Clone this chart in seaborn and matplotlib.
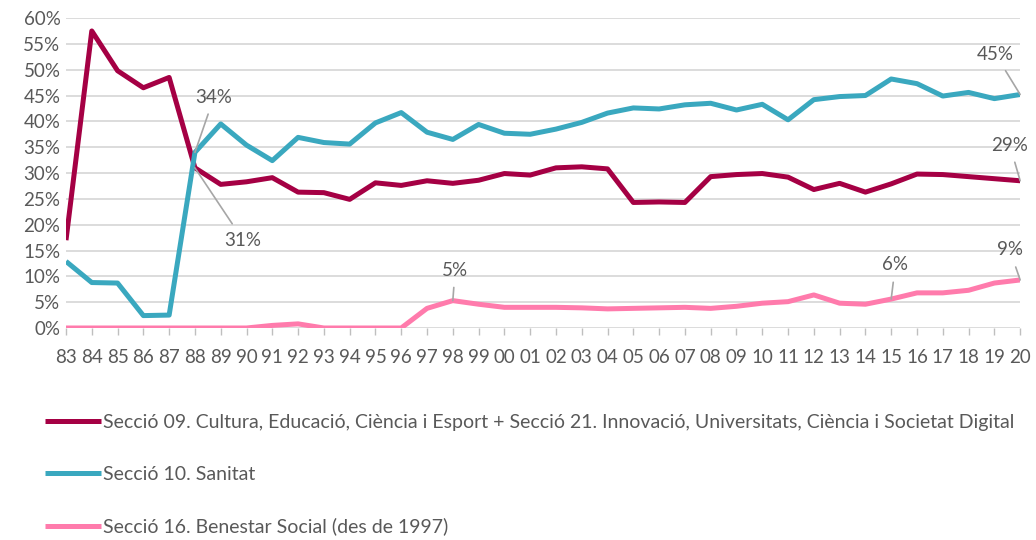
#line chart: share of budget sections, 1983-2020
import pandas as pd
import numpy as np
import matplotlib.pyplot as plt
import seaborn as sns

years = ['83', '84', '85', '86', '87', '88', '89', '90', '91', '92', '93', '94', '95',
         '96', '97', '98', '99', '00', '01', '02', '03', '04', '05', '06', '07', '08',
         '09', '10', '11', '12', '13', '14', '15', '16', '17', '18', '19', '20']

cultura = [17.0, 57.5, 49.8, 46.5, 48.5, 31.0, 27.8, 28.3, 29.1, 26.3, 26.2, 24.9, 28.1,
           27.6, 28.5, 28.0, 28.6, 29.9, 29.6, 31.0, 31.2, 30.8, 24.3, 24.4, 24.3, 29.3,
           29.7, 29.9, 29.2, 26.8, 28.0, 26.3, 27.9, 29.8, 29.7, 29.3, 28.9, 28.5]
sanitat = [12.9, 8.8, 8.7, 2.4, 2.5, 34.0, 39.5, 35.4, 32.4, 36.9, 35.9, 35.6, 39.7,
           41.7, 37.9, 36.5, 39.4, 37.7, 37.5, 38.5, 39.8, 41.6, 42.6, 42.4, 43.2, 43.5,
           42.2, 43.3, 40.3, 44.2, 44.8, 45.0, 48.2, 47.3, 44.9, 45.6, 44.4, 45.2]
benestar = [0.0, 0.0, 0.0, 0.0, 0.0, 0.0, 0.0, 0.0, 0.5, 0.8, 0.0, 0.0, 0.0,
            0.0, 3.8, 5.3, 4.6, 4.0, 4.0, 4.0, 3.9, 3.7, 3.8, 3.9, 4.0, 3.8,
            4.2, 4.8, 5.1, 6.4, 4.8, 4.6, 5.6, 6.8, 6.8, 7.3, 8.7, 9.3]

series_names = ['Secció 09. Cultura, Educació, Ciència i Esport + Secció 21. Innovació, Universitats, Ciència i Societat Digital',
                'Secció 10. Sanitat',
                'Secció 16. Benestar Social (des de 1997)']
colors = ['#A50044', '#3AA8BF', '#FF7BAC']

# labelled points: (series, year, label, text x offset in idx, text y in %)
labels = [(1, '88', '34%', 0.74, 44.7),
          (0, '88', '31%', 1.87, 17.0),
          (2, '98', '5%', 0.09, 11.2),
          (2, '15', '6%', 0.16, 12.2),
          (1, '20', '45%', -0.96, 53.0),
          (0, '20', '29%', -0.4, 35.4),
          (2, '20', '9%', -0.4, 15.1)]

sns.set_style('white')
plt.rcParams['font.family'] = ['Lato', 'DejaVu Sans']

idx = np.arange(len(years))
df = pd.concat([pd.DataFrame({'idx': idx, 'value': vals, 'serie': name})
                for vals, name in zip([cultura, sanitat, benestar], series_names)])

fig = plt.figure(figsize=(10.36, 5.4), dpi=100)
ax = fig.add_axes([0.0637, 0.3926, 0.921, 0.574])

sns.lineplot(data=df, x='idx', y='value', hue='serie', palette=colors,
             linewidth=3.6, ax=ax, legend=True, solid_capstyle='butt')

ax.set_xlim(0, len(years) - 1)
ax.set_ylim(0, 60)
ax.set_yticks(np.arange(0, 61, 5))
ax.set_yticklabels([f'{v}%' for v in range(0, 61, 5)])
ax.set_xticks(idx)
ax.set_xticklabels(years)
ax.grid(axis='y', color='#D9D9D9', linewidth=1.3)
ax.set_axisbelow(True)
for s in ax.spines.values():
    s.set_visible(False)
ax.tick_params(axis='x', length=5, color='#BFBFBF', width=1, labelsize=13.5,
               labelcolor='#595959', pad=10, direction='out', bottom=True)
ax.tick_params(axis='y', length=0, labelsize=13.5, labelcolor='#595959', pad=4)
ax.set_xlabel('')
ax.set_ylabel('')

all_vals = [cultura, sanitat, benestar]
for si, yr, txt, dx, ty in labels:
    i = years.index(yr)
    ax.annotate(txt, xy=(i, all_vals[si][i]), xytext=(i + dx, ty),
                ha='center', va='center', fontsize=13.5, color='#595959',
                arrowprops=dict(arrowstyle='-', color='#A6A6A6', lw=1.2,
                                shrinkA=4, shrinkB=0))

handles, lbls = ax.get_legend_handles_labels()
ax.legend(handles, lbls, loc='upper left', bbox_to_anchor=(-0.04, -0.22),
          frameon=False, fontsize=14, labelcolor='#595959',
          handlelength=2.85, handletextpad=0.1, labelspacing=1.8)

fig.savefig('out.png', dpi=100)
